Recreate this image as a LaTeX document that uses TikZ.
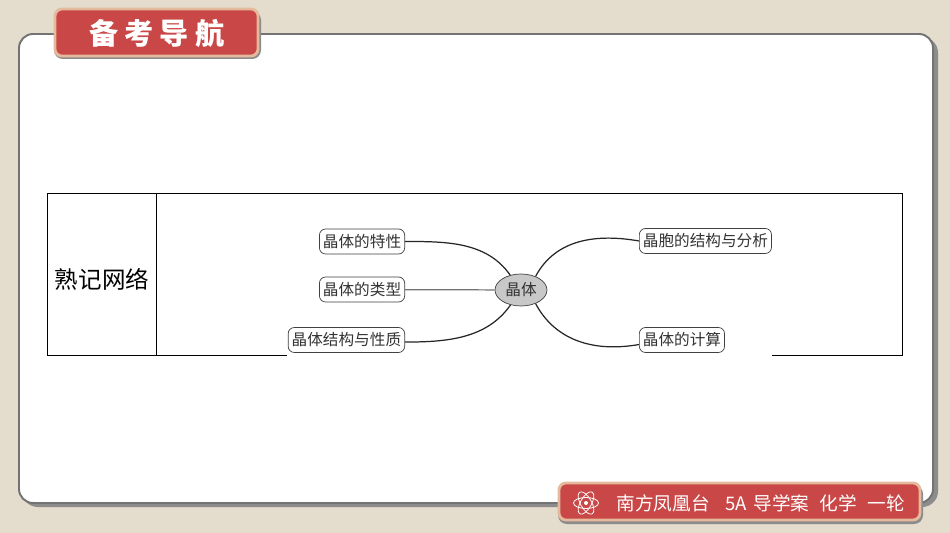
\documentclass[tikz,border=0pt]{standalone}
\usepackage{fontspec}
\setmainfont{Noto Sans CJK SC}
\usetikzlibrary{shapes.geometric}
\definecolor{paper}{HTML}{E4DCCC}
\definecolor{tagred}{HTML}{C94747}
\definecolor{tagrim}{HTML}{E4B99C}
\definecolor{rootgray}{HTML}{C8C8C8}
\tikzset{
  topic/.style={draw=black!75,rounded corners=3.5pt,fill=white,text=black!80,font=\fontsize{8.9}{10}\selectfont,
    inner xsep=2pt,inner ysep=0pt,minimum height=0.5cm},
  root/.style={ellipse,draw=black!75,fill=rootgray,text=black!80,font=\fontsize{8.9}{10}\selectfont,
    inner sep=0pt,minimum width=1.04cm,minimum height=0.64cm},
  link/.style={draw=black!85,line width=0.7pt},
  tag/.style={rounded corners=4pt,fill=tagred,draw=tagrim,line width=1.6pt},
  shade/.style={rounded corners=5pt,fill=black!45},
}

\begin{document}
\begin{tikzpicture}[x=0.02cm,y=-0.02cm]

\fill[paper] (0,0) rectangle (950,533);
\useasboundingbox (0,0) rectangle (950,533);

% panel
\fill[black!45,rounded corners=9pt] (22,37) rectangle (938,507);
\draw[fill=white,draw=black!55,line width=1.1pt,rounded corners=8pt] (19,34) rectangle (933,503);

% table
\coordinate (t1) at (47,193);
\coordinate (t2) at (902,193);
\coordinate (t3) at (902,355);
\coordinate (t4) at (47,355);
\coordinate (t5) at (156,193);
\coordinate (t6) at (156,355);
\coordinate (t7) at (287,355);
\coordinate (t8) at (772,355);
\draw[line width=0.55pt] (t7) -- (t4) -- (t1) -- (t2) -- (t3) -- (t8) (t5) -- (t6);
\node (head) at (102,279) {\fontsize{13.4}{16}\selectfont 熟记网络};

% map
\node[root] (r) at (521,290) {晶体};
\node[topic,anchor=east] (a1) at (405,241.5) {晶体的特性};
\node[topic,anchor=east] (a2) at (405,289.5) {晶体的类型};
\node[topic,anchor=east] (a3) at (405,340) {晶体结构与性质};
\node[topic,anchor=west] (b1) at (639,241) {晶胞的结构与分析};
\node[topic,anchor=west] (b2) at (639,340) {晶体的计算};

\path[link] (a1.east) edge[out=0,in=125,looseness=0.95] (r.126)
            (a3.-2.5) edge[out=0,in=-125,looseness=0.95] (r.-125)
            (r.43) edge[out=62,in=170,looseness=1] (b1.west)
            (r.-43) edge[out=-62,in=190,looseness=1] (b2.186);
\draw[black!55,line width=0.7pt] (a2) -- (r);

% title tag
\fill[shade] (54,11) rectangle (261,59);
\draw[tag] (55,9) rectangle (258,56);
\node[text=white,font=\fontsize{16.6}{18}\bfseries\selectfont] (title) at (157,33) {备\hspace{3.4pt}考\hspace{3.4pt}导\hspace{3.4pt}航};

% footer tag
\fill[shade] (558,485) rectangle (923,524);
\draw[tag] (559,483) rectangle (920,520);
\node[text=white,font=\fontsize{10.6}{12}\selectfont,anchor=west] (foot) at (610.5,503)
  {南方凤凰台\hspace{9pt}5A\hspace{3.5pt}导学案\hspace{6pt}化学\hspace{6pt}一轮};

% atom
\foreach \a in {0,60,120}
  \draw[white,line width=0.45pt,rotate around={\a:(586,503)}] (586,503) ellipse (12.5 and 5.5);
\fill[white] (586,503) circle (2);

\end{tikzpicture}
\end{document}
